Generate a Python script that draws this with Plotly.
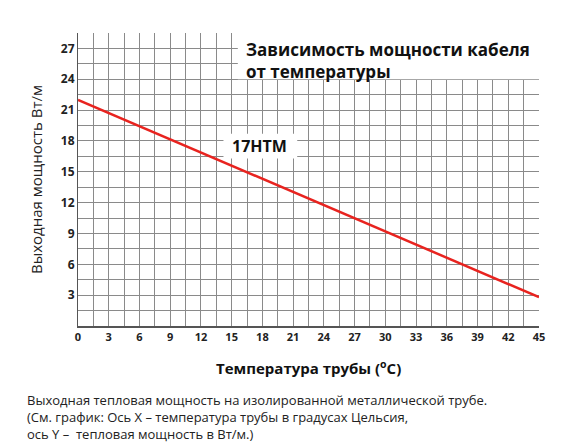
import plotly.graph_objects as go

temperature = [0, 45]
power = [22.0, 2.8]
x_ticks = list(range(0, 46, 3))
y_ticks = list(range(3, 28, 3))

fig = go.Figure()
fig.add_trace(go.Scatter(x=temperature, y=power, mode="lines",
                         line=dict(color="#e8231f", width=2.5), showlegend=False))

# white boxes covering the grid behind the labels
fig.add_shape(type="rect", x0=15.6, x1=46, y0=24.0, y1=29, fillcolor="white",
              line_width=0, layer="above")
fig.add_shape(type="rect", x0=14.2, x1=21.4, y0=16.3, y1=18.7, fillcolor="white",
              line_width=0, layer="above")

fig.add_annotation(x=16.2, y=28.2, xref="x", yref="y", xanchor="left", yanchor="top",
                   text="<b>Зависимость мощности кабеля<br>от температуры</b>",
                   showarrow=False, align="left",
                   font=dict(family="Open Sans", size=17, color="#111"))
fig.add_annotation(x=14.8, y=17.5, xref="x", yref="y", xanchor="left",
                   text="<b>17HTM</b>", showarrow=False,
                   font=dict(family="Open Sans", size=16, color="#111"))
fig.add_annotation(x=0.5, y=-0.14, xref="paper", yref="paper", yanchor="middle",
                   text="<b>Температура трубы (<sup>o</sup>C)</b>", showarrow=False,
                   font=dict(family="Open Sans", size=15, color="#111"))
fig.add_annotation(x=-0.115, y=-0.215, xref="paper", yref="paper", xanchor="left",
                   yanchor="top", align="left", showarrow=False,
                   text="Выходная тепловая мощность на изолированной металлической трубе.<br>"
                        "(См. график: Ось X – температура трубы в градусах Цельсия,<br>"
                        "ось Y –  тепловая мощность в Вт/м.)",
                   font=dict(family="Open Sans", size=13, color="#222"))

axis_common = dict(showgrid=True, gridcolor="#8a8a8a", gridwidth=1,
                   minor=dict(dtick=1.5, showgrid=True, gridcolor="#8a8a8a", gridwidth=1),
                   zeroline=False, ticks="", automargin=False,
                   tickfont=dict(family="Open Sans", size=12, color="#222", weight="bold"))
fig.update_xaxes(range=[0, 45], tickvals=x_ticks, showline=True, linecolor="#555",
                 linewidth=1.5, **axis_common)
fig.update_yaxes(range=[0, 28.5], tickvals=y_ticks, showline=True, linecolor="#555",
                 title=dict(text="Выходная мощность Вт/м",
                            font=dict(family="Open Sans", size=15, color="#222"),
                            standoff=14),
                 **axis_common)
fig.update_xaxes(tickfont=dict(family="Open Sans", size=11, color="#222", weight="bold"))
fig.update_layout(width=568, height=444, margin=dict(l=70, r=37, t=25, b=126),
                  plot_bgcolor="white", paper_bgcolor="white")
fig.write_html("out.html")
